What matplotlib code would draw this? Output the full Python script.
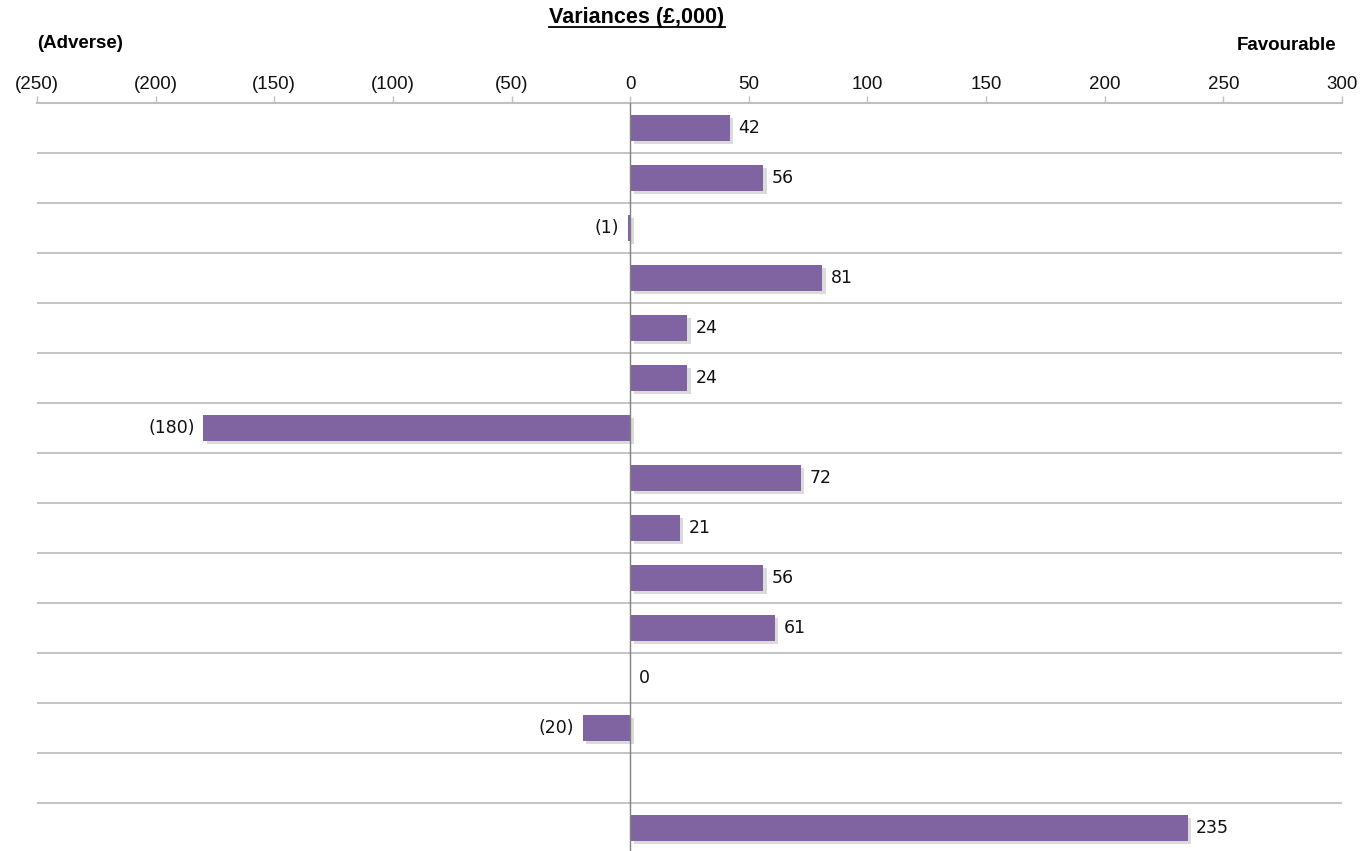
import numpy as np
import matplotlib.pyplot as plt
import matplotlib.patheffects as pe

# variances in £,000 ; nan = empty row
values = [42, 56, -1, 81, 24, 24, -180, 72, 21, 56, 61, 0, -20, np.nan, 235]
xticks = [-250, -200, -150, -100, -50, 0, 50, 100, 150, 200, 250, 300]
xticklabels = ["(250)", "(200)", "(150)", "(100)", "(50)", "0",
               "50", "100", "150", "200", "250", "300"]
title = "Variances (£,000)"
left_note = "(Adverse)"
right_note = "Favourable"

bar_color = "#8064A2"
grid_color = "#c0c0c0"


def fmt(v):
    if v < 0:
        return "({:.0f})".format(-v)
    return "{:.0f}".format(v)


def main():
    W, H = 1371, 851
    fig = plt.figure(figsize=(W / 100, H / 100), dpi=100)
    ax = fig.add_axes([37 / W, 0, 1305 / W, (H - 103) / H])

    n = len(values)
    ys = np.arange(n)
    for y, v in zip(ys, values):
        if np.isnan(v):
            continue
        if v != 0:
            b = ax.barh(y, v, height=0.52, color=bar_color, zorder=3)
            for p in b.patches:
                p.set_path_effects([
                    pe.SimplePatchShadow(offset=(2.5, -2.5), shadow_rgbFace="#999999", alpha=0.35),
                    pe.Normal()])
        if v >= 0:
            ax.annotate(fmt(v), (v, y), xytext=(6, 0), textcoords="offset points",
                        ha="left", va="center", fontsize=12.5, family="DejaVu Sans",
                        color="#111111")
        else:
            ax.annotate(fmt(v), (v, y), xytext=(-6, 0), textcoords="offset points",
                        ha="right", va="center", fontsize=12.5, family="DejaVu Sans",
                        color="#111111")

    # separators between rows
    for k in range(n - 1):
        ax.axhline(k + 0.5, color=grid_color, lw=1.3, zorder=1)
    ax.axvline(0, color="#808080", lw=1, zorder=4)

    ax.set_xlim(-250, 300)
    ax.set_ylim(14.46, -0.5)
    ax.set_yticks([])
    ax.xaxis.tick_top()
    ax.set_xticks(xticks)
    ax.set_xticklabels(xticklabels, family="Liberation Sans", fontsize=13.5)
    ax.tick_params(axis="x", direction="out", length=5, color=grid_color,
                   width=1, pad=2, labelcolor="#111111")
    for s in ["left", "right", "bottom"]:
        ax.spines[s].set_visible(False)
    ax.spines["top"].set_color(grid_color)
    ax.spines["top"].set_linewidth(1.5)

    t = fig.text(637 / W, 1 - 18 / H, title, ha="center", va="center",
                 fontsize=15.5, fontweight="bold", family="Liberation Sans")
    fig.text(37 / W, 1 - 43 / H, left_note, ha="left", va="center",
             fontsize=13.5, fontweight="bold", family="Liberation Sans")
    fig.text(1336 / W, 1 - 45 / H, right_note, ha="right", va="center",
             fontsize=13.5, fontweight="bold", family="Liberation Sans")

    # underline the title
    fig.canvas.draw()
    bb = t.get_window_extent().transformed(fig.transFigure.inverted())
    fig.add_artist(plt.Line2D([bb.x0, bb.x1], [bb.y0 + 0.002, bb.y0 + 0.002],
                              color="black", lw=1.3, transform=fig.transFigure))

    fig.savefig("out.png", dpi=100)


if __name__ == "__main__":
    main()
